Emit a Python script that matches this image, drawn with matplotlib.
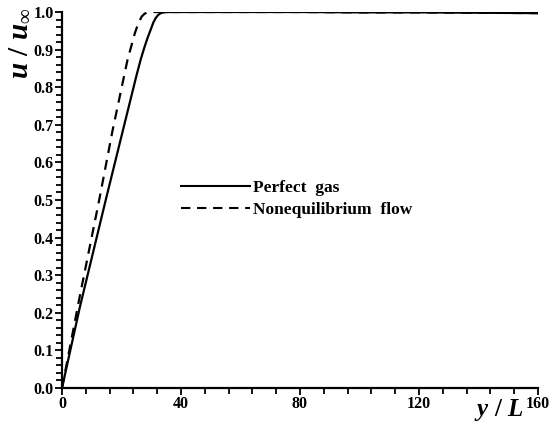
import matplotlib
matplotlib.use("Agg")
import matplotlib.pyplot as plt
from matplotlib.ticker import MultipleLocator

# Data
perfect_x = [0, 6, 14.7, 20, 25, 26.5, 27.7, 28.8, 30, 30.7, 31.5, 32.3, 33.2, 34.2, 36, 40, 60, 80, 100, 120, 140, 160]
perfect_y = [0, 0.215, 0.5, 0.67, 0.83, 0.875, 0.906, 0.932, 0.957, 0.972, 0.984, 0.992, 0.997, 0.999, 1.0, 1.0, 1.0, 1.0, 0.999, 0.999, 0.998, 0.997]
noneq_x = [0, 6, 12.5, 17, 22, 24.5, 25.7, 26.8, 27.7, 28.6, 30, 40, 60, 80, 100, 120, 140, 160]
noneq_y = [0, 0.245, 0.5, 0.685, 0.872, 0.944, 0.971, 0.988, 0.995, 0.999, 1.0, 1.0, 1.0, 1.0, 0.999, 0.999, 0.998, 0.997]
labels = ["Perfect  gas", "Nonequilibrium  flow"]

plt.rcParams['font.family'] = ['Liberation Serif', 'DejaVu Serif']
plt.rcParams['font.weight'] = 'bold'
plt.rcParams['mathtext.fontset'] = 'custom'
plt.rcParams['mathtext.it'] = 'Liberation Serif:italic:bold'
plt.rcParams['mathtext.rm'] = 'Liberation Serif:bold'
plt.rcParams['mathtext.bf'] = 'Liberation Serif:bold'

fig = plt.figure(figsize=(5.5, 4.25), dpi=100)
ax = fig.add_axes([62/550, 1-388/425, 476/550, 376/425])

ax.plot(perfect_x, perfect_y, color='black', lw=1.6, label=labels[0])
ax.plot(noneq_x, noneq_y, color='black', lw=1.6, dashes=(4.5, 3.2), label=labels[1])

ax.set_xlim(0, 160)
ax.set_ylim(0, 1.0)
ax.xaxis.set_major_locator(MultipleLocator(40))
ax.xaxis.set_minor_locator(MultipleLocator(8))
ax.yaxis.set_major_locator(MultipleLocator(0.1))
ax.yaxis.set_minor_locator(MultipleLocator(0.02))
ax.yaxis.set_major_formatter(plt.FuncFormatter(lambda v, p: f"{v:.1f}"))
ax.xaxis.set_major_formatter(plt.FuncFormatter(lambda v, p: f"{v:.0f}"))

for s in ['top', 'right']:
    ax.spines[s].set_visible(False)
for s in ['left', 'bottom']:
    ax.spines[s].set_linewidth(1.6)

ax.tick_params(which='major', direction='out', length=5, width=1.3, pad=1, labelsize=11.5)
ax.tick_params(which='minor', direction='out', length=4.5, width=1.3)
for lab in ax.get_xticklabels() + ax.get_yticklabels():
    lab.set_fontweight('bold')

leg = ax.legend(loc='upper left', bbox_to_anchor=(0.25, 0.553), frameon=False,
                borderpad=0, borderaxespad=0,
                handlelength=4.0, handletextpad=0.17, labelspacing=0.3,
                prop={'family': 'Liberation Serif', 'weight': 'bold', 'size': 12.5})
for h in leg.get_lines():
    h.set_linewidth(1.5)

fig.text(19/550, 1-7/425, r'$u\ /\ u_{\infty}$', rotation=90, ha='center', va='top', fontsize=21)
fig.text(524/550, 1-423/425, r'$y\ /\ L$', ha='right', va='bottom', fontsize=18)

fig.savefig('out.png', dpi=100)
